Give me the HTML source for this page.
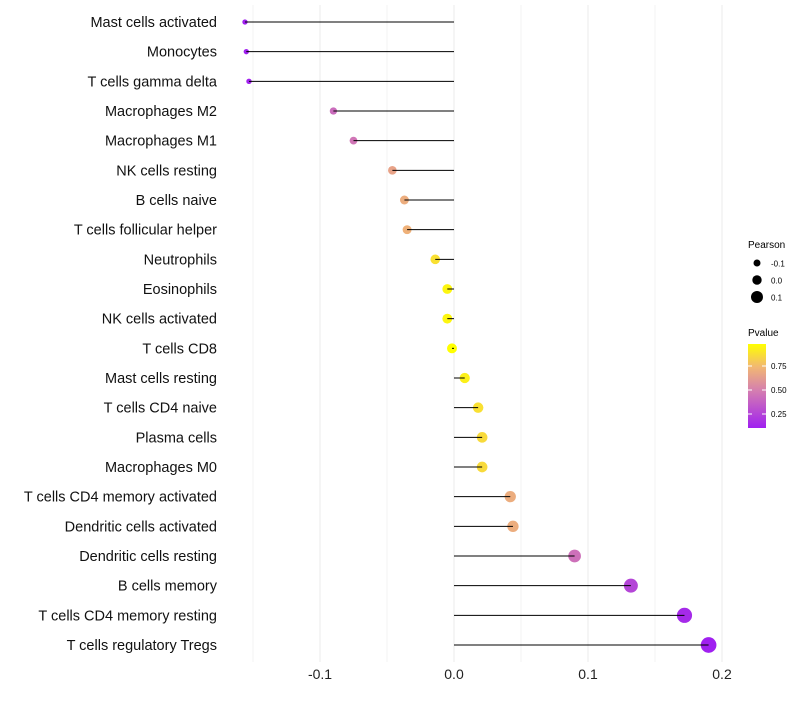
<!DOCTYPE html>
<html><head><meta charset="utf-8"><style>
body{margin:0;background:#fff;font-family:"Liberation Sans",sans-serif;}
</style></head><body>
<svg id="chart" width="800" height="700" xmlns="http://www.w3.org/2000/svg" style="font-family:'Liberation Sans',sans-serif">
<g id="grid"></g>
<g id="points"></g>
<g id="marks"></g>
<g id="ylabels"></g>
<g id="xlabels"></g>
<g id="legend">
  <text x="748" y="248" font-size="10">Pearson</text>
  <circle cx="757" cy="263" r="3.5" fill="#000"/>
  <text x="771" y="266.5" font-size="8">-0.1</text>
  <circle cx="757" cy="280" r="4.7" fill="#000"/>
  <text x="771" y="283.5" font-size="8">0.0</text>
  <circle cx="757" cy="297" r="6" fill="#000"/>
  <text x="771" y="300.5" font-size="8">0.1</text>
  <text x="748" y="336" font-size="10">Pvalue</text>
  <defs><linearGradient id="pg" x1="0" y1="0" x2="0" y2="1">
    <stop offset="0" stop-color="#FFFF00"/><stop offset="0.27" stop-color="#F2B872"/>
    <stop offset="0.55" stop-color="#D57FAF"/><stop offset="1" stop-color="#A020F0"/></linearGradient></defs>
  <rect x="748" y="344" width="18" height="84" fill="url(#pg)"/>
  <g stroke="#fff" stroke-width="1"><line x1="748" y1="366" x2="752" y2="366"/><line x1="762" y1="366" x2="766" y2="366"/><line x1="748" y1="390" x2="752" y2="390"/><line x1="762" y1="390" x2="766" y2="390"/><line x1="748" y1="414" x2="752" y2="414"/><line x1="762" y1="414" x2="766" y2="414"/></g>
  <text x="771" y="369" font-size="8">0.75</text>
  <text x="771" y="393" font-size="8">0.50</text>
  <text x="771" y="417" font-size="8">0.25</text>
</g>
</svg>
<script>
const categories=["Mast cells activated","Monocytes","T cells gamma delta","Macrophages M2","Macrophages M1","NK cells resting","B cells naive","T cells follicular helper","Neutrophils","Eosinophils","NK cells activated","T cells CD8","Mast cells resting","T cells CD4 naive","Plasma cells","Macrophages M0","T cells CD4 memory activated","Dendritic cells activated","Dendritic cells resting","B cells memory","T cells CD4 memory resting","T cells regulatory  Tregs"];
const pearson=[-0.156,-0.155,-0.153,-0.090,-0.075,-0.046,-0.037,-0.035,-0.014,-0.005,-0.005,-0.0015,0.008,0.018,0.021,0.021,0.042,0.044,0.090,0.132,0.172,0.190];
const pvalues=[0.10,0.10,0.12,0.42,0.46,0.66,0.70,0.72,0.88,0.95,0.95,0.99,0.93,0.88,0.86,0.86,0.70,0.70,0.44,0.26,0.15,0.10];
const xTicks=[-0.1,0.0,0.1,0.2];
const xTickLabels=["-0.1","0.0","0.1","0.2"];
const NS="http://www.w3.org/2000/svg";
const xs=v=>454+v*1340;
const ys=i=>22+i*(623/21);
const rs=v=>5+v*15;
function lerp(a,b,t){return a.map((c,k)=>Math.round(c+(b[k]-c)*t));}
function col(p){const st=[[0.11,[160,32,240]],[0.5,[213,127,175]],[0.75,[242,184,114]],[0.98,[255,255,0]]];
 if(p<=st[0][0])return "rgb("+st[0][1]+")";
 for(let i=0;i<st.length-1;i++){if(p<=st[i+1][0]){const t=(p-st[i][0])/(st[i+1][0]-st[i][0]);return "rgb("+lerp(st[i][1],st[i+1][1],t)+")";}}
 return "rgb(255,255,0)";}
function mk(tag,at,parent){const e=document.createElementNS(NS,tag);for(const k in at)e.setAttribute(k,at[k]);parent.appendChild(e);return e;}
const grid=document.getElementById('grid');
[-0.15,-0.05,0.05,0.15].forEach(v=>{const l=mk('line',{x1:xs(v),x2:xs(v),y1:5,y2:662,stroke:'#f3f3f3','stroke-width':1},grid);

});
const xl=document.getElementById('xlabels');
xTicks.forEach((v,i)=>{const l=mk('line',{x1:xs(v),x2:xs(v),y1:5,y2:662,stroke:'#ebebeb','stroke-width':1},grid);


const t=mk('text',{x:xs(v),y:679,'font-size':14,'text-anchor':'middle',fill:'#222'},xl);t.textContent=xTickLabels[i];

});
const marks=document.getElementById('marks'),pts=document.getElementById('points'),yl=document.getElementById('ylabels');
categories.forEach((c,i)=>{const y=ys(i);
const ci=mk('circle',{cx:xs(pearson[i]),cy:y,r:Math.max(1.5,rs(pearson[i])),fill:col(pvalues[i])},pts);


const ln=mk('line',{x1:xs(0),x2:xs(pearson[i]),y1:y,y2:y,stroke:'#000','stroke-width':1},marks);


const t=mk('text',{x:217,y:y+5,'font-size':14.5,'text-anchor':'end',fill:'#111'},yl);t.textContent=c;

});
</script>
</body></html>
